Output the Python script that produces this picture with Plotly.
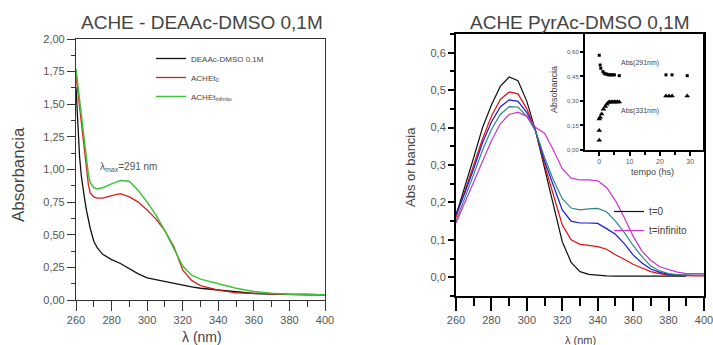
import plotly.graph_objects as go

W, H = 713, 345

# ---------------- data: left panel ----------------
lam_left = [260, 261, 262, 263, 264, 265, 266, 267, 268, 270, 272, 275, 280, 285, 290,
            295, 300, 305, 310, 315, 320, 325, 330, 340, 350, 360, 370, 380, 390, 400]
deaac = [1.63, 1.35, 1.10, 0.95, 0.84, 0.76, 0.68, 0.61, 0.55, 0.45, 0.40, 0.35, 0.31, 0.28, 0.24,
         0.20, 0.17, 0.155, 0.14, 0.125, 0.11, 0.10, 0.09, 0.075, 0.06, 0.05, 0.045, 0.04, 0.04, 0.04]
ache_t0 = [1.72, 1.60, 1.47, 1.33, 1.20, 1.08, 0.97, 0.88, 0.82, 0.79, 0.78, 0.78, 0.80, 0.815, 0.79,
           0.75, 0.69, 0.62, 0.53, 0.41, 0.23, 0.15, 0.11, 0.075, 0.055, 0.05, 0.05, 0.045, 0.045, 0.04]
ache_tinf = [1.77, 1.65, 1.53, 1.40, 1.28, 1.16, 1.05, 0.96, 0.90, 0.86, 0.85, 0.86, 0.89, 0.915, 0.91,
             0.84, 0.75, 0.65, 0.53, 0.39, 0.26, 0.19, 0.16, 0.125, 0.09, 0.065, 0.052, 0.045, 0.042, 0.04]

# ---------------- data: right panel ----------------
lam_right = [260, 265, 270, 275, 280, 285, 290, 295, 300, 305, 310, 315, 320, 325, 330,
             335, 340, 345, 350, 355, 360, 365, 370, 375, 380, 385, 390, 395, 400]
pyr_t0 = [0.165, 0.24, 0.32, 0.40, 0.46, 0.51, 0.535, 0.525, 0.47, 0.39, 0.29, 0.19, 0.095, 0.04, 0.015,
          0.008, 0.005, 0.004, 0.003, 0.003, 0.003, 0.003, 0.003, 0.003, 0.003, 0.003, 0.003, None, None]
pyr_t1 = [0.16, 0.23, 0.30, 0.37, 0.43, 0.475, 0.495, 0.49, 0.45, 0.39, 0.30, 0.22, 0.14, 0.10, 0.088,
          0.085, 0.082, 0.075, 0.06, 0.048, 0.035, 0.025, 0.015, 0.01, 0.006, 0.005, 0.004, 0.004, 0.004]
pyr_t2 = [0.17, 0.225, 0.29, 0.36, 0.415, 0.455, 0.474, 0.47, 0.44, 0.39, 0.31, 0.245, 0.18, 0.15, 0.145,
          0.145, 0.144, 0.13, 0.115, 0.09, 0.06, 0.038, 0.022, 0.013, 0.008, 0.006, 0.005, 0.005, 0.005]
pyr_t3 = [0.15, 0.21, 0.275, 0.34, 0.395, 0.435, 0.456, 0.455, 0.43, 0.39, 0.32, 0.26, 0.21, 0.185, 0.18,
          0.183, 0.184, 0.175, 0.15, 0.12, 0.085, 0.055, 0.03, 0.017, 0.01, 0.007, 0.005, 0.005, 0.005]
pyr_tinf = [0.145, 0.20, 0.255, 0.31, 0.365, 0.41, 0.435, 0.441, 0.43, 0.40, 0.385, 0.34, 0.29, 0.265, 0.26,
            0.26, 0.258, 0.24, 0.205, 0.16, 0.11, 0.07, 0.045, 0.028, 0.02, 0.014, 0.01, 0.01, 0.01]

# ---------------- data: inset ----------------
t_291 = [0, 0.3, 0.5, 1.2, 1.6, 2.0, 2.5, 3.0, 3.5, 4.0, 4.5, 5.0, 6.6, 22, 24, 29]
abs_291 = [0.58, 0.52, 0.50, 0.48, 0.47, 0.465, 0.465, 0.46, 0.46, 0.46, 0.46, 0.46, 0.455, 0.46, 0.46, 0.455]
t_331 = [0, 0, 0, 0.3, 0.8, 1.4, 2.0, 2.5, 3.0, 3.5, 4.0, 4.5, 5.0, 5.5, 6.0, 6.6, 22, 23, 24, 29]
abs_331 = [0.06, 0.12, 0.19, 0.20, 0.22, 0.25, 0.267, 0.28, 0.29, 0.294, 0.294, 0.294, 0.294, 0.294,
           0.294, 0.294, 0.33, 0.33, 0.33, 0.33]

left_y_ticks = [0, 0.25, 0.5, 0.75, 1.0, 1.25, 1.5, 1.75, 2.0]
right_y_ticks = [0.0, 0.1, 0.2, 0.3, 0.4, 0.5, 0.6]
inset_y_ticks = [0.0, 0.15, 0.30, 0.45, 0.60]
inset_x_ticks = [0, 10, 20, 30]
x_ticks = [260, 280, 300, 320, 340, 360, 380, 400]


def fx(px):
    return px / W


def fy(py):
    return 1 - py / H


FONT = "Arial, Liberation Sans, sans-serif"
TICKC = "#555555"

fig = go.Figure()

# left panel
fig.add_trace(go.Scatter(x=lam_left, y=deaac, mode="lines", name="DEAAc-DMSO 0,1M",
                         line=dict(color="#111111", width=1.3), xaxis="x", yaxis="y", legend="legend"))
fig.add_trace(go.Scatter(x=lam_left, y=ache_t0, mode="lines", name="ACHEt<sub>0</sub>",
                         line=dict(color="#d42020", width=1.3), xaxis="x", yaxis="y", legend="legend"))
fig.add_trace(go.Scatter(x=lam_left, y=ache_tinf, mode="lines", name="ACHEt<sub>infinito</sub>",
                         line=dict(color="#3cc43c", width=1.5), xaxis="x", yaxis="y", legend="legend"))

# right panel
fig.add_trace(go.Scatter(x=lam_right, y=pyr_t0, mode="lines", name="t=0",
                         line=dict(color="#111111", width=1.2), xaxis="x2", yaxis="y2", legend="legend2"))
fig.add_trace(go.Scatter(x=lam_right, y=pyr_t1, mode="lines", name="t1", showlegend=False,
                         line=dict(color="#dd1111", width=1.2), xaxis="x2", yaxis="y2"))
fig.add_trace(go.Scatter(x=lam_right, y=pyr_t2, mode="lines", name="t2", showlegend=False,
                         line=dict(color="#1a1ad8", width=1.2), xaxis="x2", yaxis="y2"))
fig.add_trace(go.Scatter(x=lam_right, y=pyr_t3, mode="lines", name="t3", showlegend=False,
                         line=dict(color="#2a8a80", width=1.2), xaxis="x2", yaxis="y2"))
fig.add_trace(go.Scatter(x=lam_right, y=pyr_tinf, mode="lines", name="t=infinito",
                         line=dict(color="#cc33cc", width=1.2), xaxis="x2", yaxis="y2", legend="legend2"))

# inset
fig.add_trace(go.Scatter(x=t_291, y=abs_291, mode="markers", showlegend=False,
                         marker=dict(symbol="square", size=3, color="black"), xaxis="x3", yaxis="y3"))
fig.add_trace(go.Scatter(x=t_331, y=abs_331, mode="markers", showlegend=False,
                         marker=dict(symbol="triangle-up", size=5, color="black"), xaxis="x3", yaxis="y3"))

tickfont = dict(family=FONT, size=11, color=TICKC)

fig.update_layout(
    template="none",
    width=W, height=H, margin=dict(l=0, r=0, t=0, b=0, pad=0),
    paper_bgcolor="white", plot_bgcolor="white",
    separators=",.",
    font=dict(family=FONT),
    xaxis=dict(domain=[fx(76), fx(325)], range=[260, 400], anchor="y", automargin=False,
               tickvals=x_ticks, ticks="outside", ticklen=10, tickwidth=1.2, tickcolor="#333",
               minor=dict(dtick=10, tick0=260, ticks="outside", ticklen=6, tickwidth=1.2, tickcolor="#333"),
               showline=True, linecolor="#333", linewidth=1.2, mirror=True, showgrid=False, zeroline=False,
               tickfont=tickfont),
    yaxis=dict(domain=[fy(300), fy(39)], range=[0, 2.0], anchor="x", automargin=False,
               tickvals=left_y_ticks, tickformat=".2f", ticks="outside", ticklen=8, tickwidth=1.2, tickcolor="#333",
               minor=dict(dtick=0.125, tick0=0, ticks="outside", ticklen=4, tickwidth=1.2, tickcolor="#333"),
               showline=True, linecolor="#333", linewidth=1.2, mirror=True, showgrid=False, zeroline=False,
               tickfont=tickfont),
    xaxis2=dict(domain=[fx(456), fx(704)], range=[260, 400.02], anchor="y2", automargin=False,
                tickvals=x_ticks, ticks="outside", ticklen=13, tickwidth=2, tickcolor="black",
                ticklabeloverflow="allow",
                minor=dict(dtick=10, tick0=260, ticks="outside", ticklen=8, tickwidth=2, tickcolor="black"),
                showline=True, linecolor="black", linewidth=2, mirror=True, showgrid=False, zeroline=False,
                tickfont=dict(family=FONT, size=11, color=TICKC)),
    yaxis2=dict(domain=[fy(296), fy(34)], range=[-0.05, 0.65], anchor="x2", automargin=False,
                tickvals=right_y_ticks, tickformat=".1f", ticks="outside", ticklen=6, tickwidth=2, tickcolor="black",
                minor=dict(dtick=0.05, tick0=0, ticks="outside", ticklen=4, tickwidth=2, tickcolor="black"),
                showline=True, linecolor="black", linewidth=2, mirror=True, showgrid=False, zeroline=False,
                tickfont=dict(family=FONT, size=11, color=TICKC)),
    xaxis3=dict(domain=[fx(585), fx(703)], range=[-4.7, 34.2], anchor="y3", automargin=False,
                tickvals=inset_x_ticks, ticks="outside", ticklen=4, tickwidth=1.5, tickcolor="black",
                minor=dict(dtick=5, tick0=0, ticks="outside", ticklen=3, tickwidth=1.5, tickcolor="black"),
                showline=True, linecolor="black", linewidth=2, mirror=True, showgrid=False, zeroline=False,
                tickfont=dict(family=FONT, size=7, color=TICKC)),
    yaxis3=dict(domain=[fy(150), fy(34)], range=[0, 0.71], anchor="x3", automargin=False,
                tickvals=inset_y_ticks, tickformat=".2f", ticks="outside", ticklen=3, tickwidth=1.5, tickcolor="black",
                showline=True, linecolor="black", linewidth=2, mirror=True, showgrid=False, zeroline=False,
                tickfont=dict(family=FONT, size=6, color=TICKC)),
    legend=dict(x=fx(151), y=fy(44), xanchor="left", yanchor="top", bgcolor="rgba(0,0,0,0)",
                font=dict(family=FONT, size=8, color="#444"), itemwidth=30, tracegroupgap=0),
    legend2=dict(x=fx(609), y=fy(197), xanchor="left", yanchor="top", bgcolor="rgba(0,0,0,0)",
                 font=dict(family=FONT, size=10, color="#444"), itemwidth=30, tracegroupgap=0),
)

ann = []
ann.append(dict(text="ACHE - DEAAc-DMSO 0,1M", x=fx(202), y=fy(23), font=dict(size=19, color="#444")))
ann.append(dict(text="ACHE PyrAc-DMSO 0,1M", x=fx(580), y=fy(23), font=dict(size=19, color="#444")))
ann.append(dict(text="Absorbancia", x=fx(18), y=fy(175), textangle=-90, font=dict(size=17, color="#444")))
ann.append(dict(text="Abs or bancia", x=fx(410), y=fy(167), textangle=-90, font=dict(size=13, color="#444")))
ann.append(dict(text="λ (nm)", x=fx(202), y=fy(337), font=dict(size=14, color="#444")))
ann.append(dict(text="λ (nm)", x=fx(580), y=fy(340), font=dict(size=11, color="#444")))
ann.append(dict(text="λ<sub>max</sub>=291 nm", x=fx(98), y=fy(167), xanchor="left",
                font=dict(size=10, color="#555")))
ann.append(dict(text="Absobancia", x=fx(554), y=fy(90), textangle=-90, font=dict(size=9, color="#444")))
ann.append(dict(text="tempo (hs)", x=fx(652), y=fy(172), font=dict(size=9, color="#444")))
ann.append(dict(text="Abs(291nm)", x=fx(640), y=fy(63), font=dict(size=7, color="#444")))
ann.append(dict(text="Abs(331nm)", x=fx(640), y=fy(111), font=dict(size=7, color="#444")))
for a in ann:
    a.update(xref="paper", yref="paper", showarrow=False)
    a.setdefault("xanchor", "center")
    a.setdefault("yanchor", "middle")
    a["font"]["family"] = FONT
fig.update_layout(annotations=ann)

fig.write_html("out.html", config={"displayModeBar": False},
               post_script="document.body.style.margin='0';document.body.style.overflow='hidden';")
